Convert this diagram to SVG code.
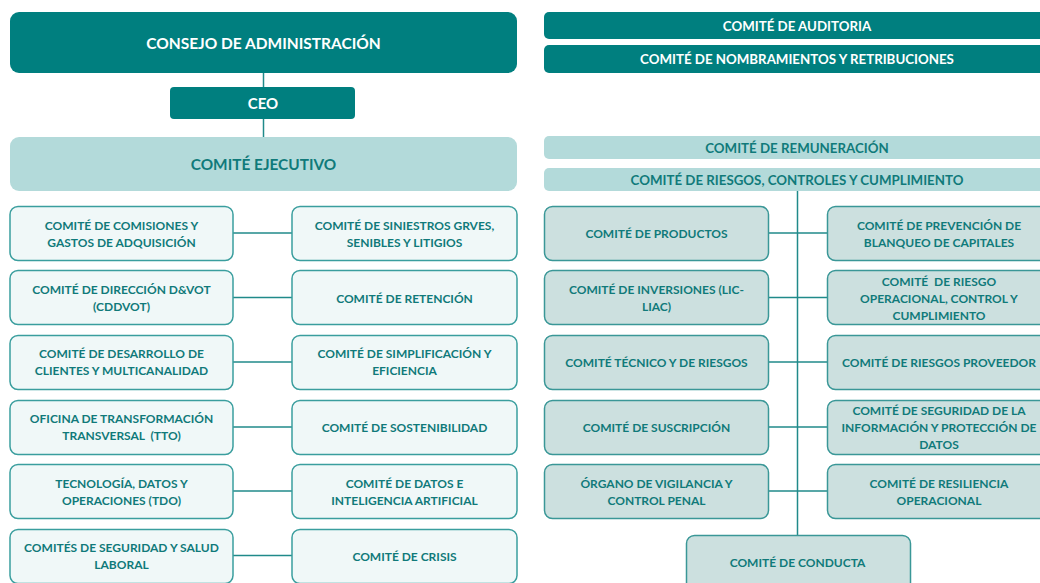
<svg xmlns="http://www.w3.org/2000/svg" width="1040" height="583" viewBox="0 0 1040 583">
<style>
text{font-family:Lato,"Open Sans","Liberation Sans",sans-serif;font-weight:bold;text-anchor:middle;dominant-baseline:central;white-space:pre}
.dk{fill:#007F7F}
.lt{fill:#B3DADA}
.wt{fill:#fff}
.tt{fill:#107A7A}
.a{fill:#F0F8F8;stroke:#3A9E9E;stroke-width:1.5}
.b{fill:#CCE0DF;stroke:#3A9797;stroke-width:1.5}
.s{font-size:12px}
.m{font-size:13.3px}
.c line{stroke:#208A8A;stroke-width:1.5}
</style>
<g class="c">
<line x1="263.5" y1="72" x2="263.5" y2="137"/>
<line x1="797.5" y1="190" x2="797.5" y2="536"/>
<line x1="233" y1="233" x2="292" y2="233"/>
<line x1="233" y1="297.5" x2="292" y2="297.5"/>
<line x1="233" y1="362" x2="292" y2="362"/>
<line x1="233" y1="427" x2="292" y2="427"/>
<line x1="233" y1="491" x2="292" y2="491"/>
<line x1="233" y1="555.5" x2="292" y2="555.5"/>
<line x1="768" y1="233" x2="827" y2="233"/>
<line x1="768" y1="297.5" x2="827" y2="297.5"/>
<line x1="768" y1="362" x2="827" y2="362"/>
<line x1="768" y1="427" x2="827" y2="427"/>
<line x1="768" y1="491" x2="827" y2="491"/>
</g>
<g id="consejo"><rect class="dk" x="10" y="12" width="507" height="61" rx="9"/><text class="wt" x="263.5" y="43" font-size="15.5">CONSEJO DE ADMINISTRACIÓN</text></g>
<g id="ceo"><rect class="dk" x="170" y="87" width="185" height="32" rx="4"/><text class="wt" x="263" y="103" font-size="15">CEO</text></g>
<g id="ejecutivo"><rect class="lt" x="10" y="137" width="507" height="54" rx="9"/><text class="tt" x="263.5" y="164" font-size="15.4">COMITÉ EJECUTIVO</text></g>
<g id="auditoria"><rect class="dk" x="544" y="12" width="510" height="27" rx="5"/><text class="wt m" x="797" y="26">COMITÉ DE AUDITORIA</text></g>
<g id="nombramientos"><rect class="dk" x="544" y="45" width="510" height="28" rx="5"/><text class="wt m" x="797" y="58.5">COMITÉ DE NOMBRAMIENTOS Y RETRIBUCIONES</text></g>
<g id="remuneracion"><rect class="lt" x="544" y="136" width="510" height="23" rx="5"/><text class="tt m" x="797" y="147.5">COMITÉ DE REMUNERACIÓN</text></g>
<g id="riesgos"><rect class="lt" x="544" y="168" width="510" height="23" rx="5"/><text class="tt m" x="797" y="179.5">COMITÉ DE RIESGOS, CONTROLES Y CUMPLIMIENTO</text></g>

<g id="comisiones"><rect class="a" x="10" y="206.5" width="223" height="54" rx="8"/><text class="tt s" x="121.5" y="225">COMITÉ DE COMISIONES Y</text><text class="tt s" x="121.5" y="242">GASTOS DE ADQUISICIÓN</text></g>
<g id="siniestros"><rect class="a" x="292" y="206.5" width="225" height="54" rx="8"/><text class="tt s" x="404.5" y="225">COMITÉ DE SINIESTROS GRVES,</text><text class="tt s" x="404.5" y="242">SENIBLES Y LITIGIOS</text></g>
<g id="direccion"><rect class="a" x="10" y="270.5" width="223" height="54" rx="8"/><text class="tt s" x="121.5" y="289">COMITÉ DE DIRECCIÓN D&amp;VOT</text><text class="tt s" x="121.5" y="306">(CDDVOT)</text></g>
<g id="retencion"><rect class="a" x="292" y="270.5" width="225" height="54" rx="8"/><text class="tt s" x="404.5" y="298">COMITÉ DE RETENCIÓN</text></g>
<g id="desarrollo"><rect class="a" x="10" y="335.5" width="223" height="54" rx="8"/><text class="tt s" x="121.5" y="353.5">COMITÉ DE DESARROLLO DE</text><text class="tt s" x="121.5" y="370.5">CLIENTES Y MULTICANALIDAD</text></g>
<g id="simplificacion"><rect class="a" x="292" y="335.5" width="225" height="54" rx="8"/><text class="tt s" x="404.5" y="353.5">COMITÉ DE SIMPLIFICACIÓN Y</text><text class="tt s" x="404.5" y="370.5">EFICIENCIA</text></g>
<g id="tto"><rect class="a" x="10" y="400.5" width="223" height="54" rx="8"/><text class="tt s" x="121.5" y="418.5">OFICINA DE TRANSFORMACIÓN</text><text class="tt s" x="121.5" y="435.5" xml:space="preserve">TRANSVERSAL  (TTO)</text></g>
<g id="sostenibilidad"><rect class="a" x="292" y="400.5" width="225" height="54" rx="8"/><text class="tt s" x="404.5" y="427">COMITÉ DE SOSTENIBILIDAD</text></g>
<g id="tdo"><rect class="a" x="10" y="464.5" width="223" height="54" rx="8"/><text class="tt s" x="121.5" y="483">TECNOLOGÍA, DATOS Y</text><text class="tt s" x="121.5" y="500">OPERACIONES (TDO)</text></g>
<g id="datos-ia"><rect class="a" x="292" y="464.5" width="225" height="54" rx="8"/><text class="tt s" x="404.5" y="483">COMITÉ DE DATOS E</text><text class="tt s" x="404.5" y="500">INTELIGENCIA ARTIFICIAL</text></g>
<g id="seguridad-salud"><rect class="a" x="10" y="529.5" width="223" height="54" rx="8"/><text class="tt s" x="121.5" y="547">COMITÉS DE SEGURIDAD Y SALUD</text><text class="tt s" x="121.5" y="564">LABORAL</text></g>
<g id="crisis"><rect class="a" x="292" y="529.5" width="225" height="54" rx="8"/><text class="tt s" x="404.5" y="556">COMITÉ DE CRISIS</text></g>

<g id="productos"><rect class="b" x="544.5" y="206.5" width="224" height="54" rx="8"/><text class="tt s" x="656.5" y="233.5">COMITÉ DE PRODUCTOS</text></g>
<g id="blanqueo"><rect class="b" x="827.5" y="206.5" width="225" height="54" rx="8"/><text class="tt s" x="939" y="225">COMITÉ DE PREVENCIÓN DE</text><text class="tt s" x="939" y="242">BLANQUEO DE CAPITALES</text></g>
<g id="inversiones"><rect class="b" x="544.5" y="270.5" width="224" height="54" rx="8"/><text class="tt s" x="656.5" y="289">COMITÉ DE INVERSIONES (LIC-</text><text class="tt s" x="656.5" y="306">LIAC)</text></g>
<g id="riesgo-operacional"><rect class="b" x="827.5" y="270.5" width="225" height="54" rx="8"/><text class="tt s" x="939" y="281" xml:space="preserve">COMITÉ  DE RIESGO</text><text class="tt s" x="939" y="298">OPERACIONAL, CONTROL Y</text><text class="tt s" x="939" y="315">CUMPLIMIENTO</text></g>
<g id="tecnico"><rect class="b" x="544.5" y="335.5" width="224" height="54" rx="8"/><text class="tt s" x="656.5" y="362.5">COMITÉ TÉCNICO Y DE RIESGOS</text></g>
<g id="proveedor"><rect class="b" x="827.5" y="335.5" width="225" height="54" rx="8"/><text class="tt s" x="939" y="362.5">COMITÉ DE RIESGOS PROVEEDOR</text></g>
<g id="suscripcion"><rect class="b" x="544.5" y="400.5" width="224" height="54" rx="8"/><text class="tt s" x="656.5" y="427">COMITÉ DE SUSCRIPCIÓN</text></g>
<g id="seguridad-info"><rect class="b" x="827.5" y="400.5" width="225" height="54" rx="8"/><text class="tt s" x="939" y="410">COMITÉ DE SEGURIDAD DE LA</text><text class="tt s" x="939" y="427">INFORMACIÓN Y PROTECCIÓN DE</text><text class="tt s" x="939" y="444">DATOS</text></g>
<g id="vigilancia"><rect class="b" x="544.5" y="464.5" width="224" height="54" rx="8"/><text class="tt s" x="656.5" y="483">ÓRGANO DE VIGILANCIA Y</text><text class="tt s" x="656.5" y="500">CONTROL PENAL</text></g>
<g id="resiliencia"><rect class="b" x="827.5" y="464.5" width="225" height="54" rx="8"/><text class="tt s" x="939" y="483">COMITÉ DE RESILIENCIA</text><text class="tt s" x="939" y="500">OPERACIONAL</text></g>
<g id="conducta"><rect class="b" x="686.5" y="535.5" width="224" height="60" rx="8"/><text class="tt s" x="797.5" y="562.5">COMITÉ DE CONDUCTA</text></g>
</svg>
